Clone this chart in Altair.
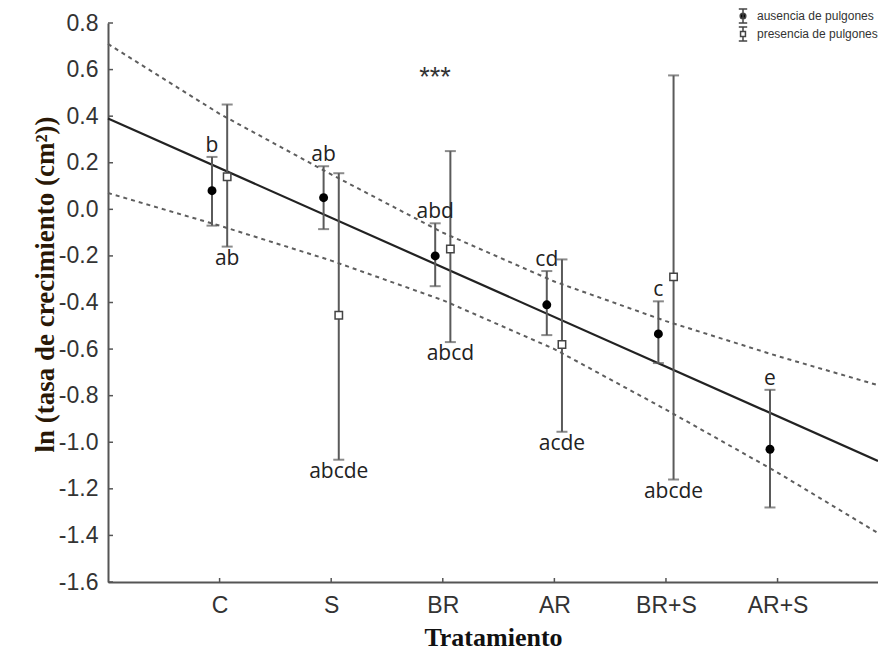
import altair as alt
import pandas as pd

# ---------------- data ----------------
cats = ["C", "S", "BR", "AR", "BR+S", "AR+S"]

aus_mean = [0.08, 0.05, -0.20, -0.41, -0.535, -1.03]
aus_hi = [0.225, 0.185, -0.06, -0.265, -0.395, -0.775]
aus_lo = [-0.07, -0.085, -0.33, -0.54, -0.66, -1.28]
aus_letters = ["b", "ab", "abd", "cd", "c", "e"]

pres_cats = ["C", "S", "BR", "AR", "BR+S"]
pres_mean = [0.14, -0.455, -0.17, -0.58, -0.29]
pres_hi = [0.45, 0.155, 0.25, -0.215, 0.575]
pres_lo = [-0.16, -1.075, -0.57, -0.955, -1.16]
pres_letters = ["ab", "abcde", "abcd", "acde", "abcde"]

fit_x = [0.0, 6.9]
fit_y = [0.39, -1.08]

band_x = [0, 1, 2, 3, 4, 5, 6, 6.9]
band_upper = [0.71, 0.41, 0.15, -0.10, -0.31, -0.48, -0.63, -0.755]
band_lower = [0.07, -0.07, -0.22, -0.39, -0.60, -0.86, -1.13, -1.39]

y_ticks = [0.8, 0.6, 0.4, 0.2, 0.0, -0.2, -0.4, -0.6, -0.8, -1.0, -1.2, -1.4, -1.6]
x_ticks = [1, 2, 3, 4, 5, 6]

groups = ["ausencia de pulgones", "presencia de pulgones"]
signif = ["***"]
signif_x = [2.93]
signif_y = [0.565]

# ---------------- tables ----------------
OFF = 0.068
aus = pd.DataFrame({
    "cat": cats,
    "pos": [cats.index(c) + 1 - OFF for c in cats],
    "mean": aus_mean, "hi": aus_hi, "lo": aus_lo, "letter": aus_letters,
})
pres = pd.DataFrame({
    "cat": pres_cats,
    "pos": [cats.index(c) + 1 + OFF for c in pres_cats],
    "mean": pres_mean, "hi": pres_hi, "lo": pres_lo, "letter": pres_letters,
})
fit = pd.DataFrame({"x": fit_x, "y": fit_y})
band = pd.DataFrame({"x": band_x, "up": band_upper, "low": band_lower})
yt = pd.DataFrame({"v": y_ticks})
xt = pd.DataFrame({"v": x_ticks})
leg = pd.DataFrame({"g": groups, "pos": [1, 1], "mean": [0, 0]})
sig = pd.DataFrame({"t": signif, "x": signif_x, "y": signif_y})

W, H = 770, 559

js_cats = "[" + ",".join("'" + c + "'" for c in cats) + "]"

xscale = alt.Scale(domain=[0, 6.9], nice=False, zero=False)
yscale = alt.Scale(domain=[-1.6, 0.8], nice=False, zero=False)

xaxis = alt.Axis(
    values=x_ticks, labelExpr=js_cats + "[datum.value - 1]",
    title="Tratamiento", grid=False, ticks=False,
    domainColor="#555555", domainWidth=2,
    labelFont="Liberation Sans Narrow, Liberation Sans", labelFontSize=23,
    labelColor="#333333", labelPadding=12, labelOverlap=False,
    titleFont="Liberation Serif", titleFontSize=26, titleFontWeight="bold",
    titleColor="#111111", titleX=W / 2, titleY=55, titleBaseline="middle",
)
yaxis = alt.Axis(
    values=y_ticks,
    labelExpr="(datum.value < -0.001 ? '-' : '') + format(abs(datum.value), '.1f')",
    title="ln (tasa de crecimiento (cm²))", grid=False, ticks=False,
    domainColor="#555555", domainWidth=2,
    labelFont="Liberation Sans", labelFontSize=23, labelColor="#333333",
    labelPadding=10, labelOverlap=False,
    titleFont="Liberation Serif", titleFontSize=27, titleFontWeight="bold",
    titleColor="#2a1806", titleX=-63, titleY=261, titleBaseline="middle",
    titleAngle=270,
)


def X(f):
    return alt.X(f + ":Q", scale=xscale, axis=xaxis)


def Y(f):
    return alt.Y(f + ":Q", scale=yscale, axis=yaxis)


dash = [4, 4]
upper = alt.Chart(band).mark_line(color="#5e5e5e", strokeWidth=2, strokeDash=dash).encode(x=X("x"), y=Y("up"))
lower = alt.Chart(band).mark_line(color="#5e5e5e", strokeWidth=2, strokeDash=dash).encode(x=X("x"), y=Y("low"))
fitline = alt.Chart(fit).mark_line(color="#222222", strokeWidth=2.2).encode(x=X("x"), y=Y("y"))

ytick_rules = alt.Chart(yt).mark_rule(color="#555555", strokeWidth=1.5).encode(
    y=Y("v"), x=alt.value(0), x2=alt.value(5))
xtick_rules = alt.Chart(xt).mark_rule(color="#555555", strokeWidth=1.5).encode(
    x=X("v"), y=alt.value(H), y2=alt.value(H - 4))

BAR = "#5a5a5a"


def bars(df):
    r = alt.Chart(df).mark_rule(color=BAR, strokeWidth=2).encode(x=X("pos"), y=Y("lo"), y2="hi")
    t1 = alt.Chart(df).mark_tick(color=BAR, orient="horizontal", size=11, thickness=2).encode(x=X("pos"), y=Y("hi"))
    t2 = alt.Chart(df).mark_tick(color=BAR, orient="horizontal", size=11, thickness=2).encode(x=X("pos"), y=Y("lo"))
    return [r, t1, t2]


dots = alt.Chart(aus).mark_point(shape="circle", filled=True, color="#000000", size=80, opacity=1).encode(
    x=X("pos"), y=Y("mean"))
squares = alt.Chart(pres).mark_point(shape="square", filled=True, fill="#ffffff", stroke="#444444",
                                     strokeWidth=1.5, size=55, opacity=1).encode(x=X("pos"), y=Y("mean"))

txt_style = dict(font="Open Sans", fontSize=21, color="#222222", align="center")
aus_txt = alt.Chart(aus).mark_text(baseline="bottom", dy=-1, **txt_style).encode(
    x=X("pos"), y=Y("hi"), text="letter:N")
pres_txt = alt.Chart(pres).mark_text(baseline="top", dy=1, **txt_style).encode(
    x=X("pos"), y=Y("lo"), text="letter:N")

sig_txt = alt.Chart(sig).mark_text(font="Liberation Sans", fontSize=27, color="#333333",
                                   baseline="middle").encode(x=X("x"), y=Y("y"), text="t:N")

path_a = "M-0.6,-1H0.6M0,-1V1M-0.6,1H0.6M0.4,0A0.4,0.4,0,1,1,-0.4,0A0.4,0.4,0,1,1,0.4,0Z"
path_p = "M-0.6,-1H0.6M0,-1V-0.35M0,0.35V1M-0.6,1H0.6M-0.35,-0.35H0.35V0.35H-0.35Z"

legend = alt.Legend(
    orient="none", legendX=627, legendY=-15, title=None,
    labelFont="Liberation Sans", labelFontSize=12, labelColor="#333333",
    labelOffset=6, symbolSize=196, symbolStrokeWidth=1.5,
    symbolOpacity=1, rowPadding=-3,
)
leg_layer = alt.Chart(leg).mark_point(filled=True, opacity=0, strokeWidth=1.5).encode(
    x=X("pos"), y=Y("mean"),
    shape=alt.Shape("g:N", scale=alt.Scale(domain=groups, range=[path_a, path_p]), legend=legend),
    fill=alt.Fill("g:N", scale=alt.Scale(domain=groups, range=["#000000", "#ffffff"]), legend=legend),
    stroke=alt.Stroke("g:N", scale=alt.Scale(domain=groups, range=["#444444", "#444444"]), legend=legend),
)

layers = [upper, lower, fitline, ytick_rules, xtick_rules] + bars(aus) + bars(pres) + [
    dots, squares, aus_txt, pres_txt, sig_txt, leg_layer]

chart = alt.layer(*layers).properties(
    width=W, height=H,
    autosize=alt.AutoSizeParams(type="none"),
    padding={"left": 100, "top": 15, "right": 0, "bottom": 69},
    background="white",
).configure_view(stroke=None)

chart.save("out.html", embed_options={"renderer": "svg", "actions": False})
